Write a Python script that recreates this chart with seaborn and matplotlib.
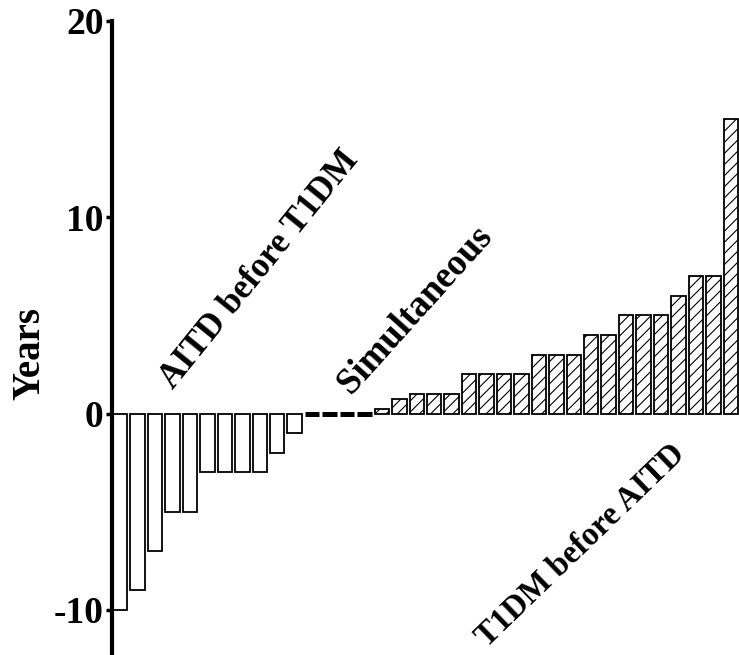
import numpy as np
import pandas as pd
import matplotlib
matplotlib.use('Agg')
import matplotlib.pyplot as plt
from matplotlib import font_manager as fm
import seaborn as sns

# years between onset of AITD and T1DM, one bar per patient
aitd_first = [-10, -9, -7, -5, -5, -3, -3, -3, -3, -2, -1]
simultaneous = [0, 0, 0, 0]
t1dm_first = [0.25, 0.75, 1, 1, 1, 2, 2, 2, 2, 3, 3, 3, 4, 4, 5, 5, 5, 6, 7, 7, 15]

y_ticks = [-10, 0, 10, 20]

n1, n2, n3 = len(aitd_first), len(simultaneous), len(t1dm_first)
df1 = pd.DataFrame({'pos': np.arange(n1), 'years': aitd_first})
df2 = pd.DataFrame({'pos': np.arange(n1, n1 + n2), 'years': simultaneous})
df3 = pd.DataFrame({'pos': np.arange(n1 + n2, n1 + n2 + n3), 'years': t1dm_first})

sns.set_style('white')
plt.rcParams['hatch.linewidth'] = 0.8
plt.rcParams['text.color'] = 'black'
plt.rcParams['axes.labelcolor'] = 'black'
plt.rcParams['ytick.color'] = 'black'

# Times-like bold font, picked by file so nothing falls back
bold_path = fm.findfont(fm.FontProperties(family='Liberation Serif', weight='bold'))


def font(size):
    return fm.FontProperties(fname=bold_path, size=size)


fig = plt.figure(figsize=(7.39, 6.55), dpi=100)
ax = fig.add_axes([0.1516, 0.0, 0.8484, 0.968])

bw = 0.83
sns.barplot(data=df1, x='pos', y='years', native_scale=True, width=bw,
            color='white', edgecolor='black', linewidth=1.3, ax=ax)
sns.barplot(data=df2, x='pos', y='years', native_scale=True, width=bw,
            color='black', edgecolor='black', linewidth=3.6, ax=ax)
sns.barplot(data=df3, x='pos', y='years', native_scale=True, width=bw,
            color='white', edgecolor='black', linewidth=1.3, hatch='///', ax=ax)

ax.set_xlim(-0.47, n1 + n2 + n3 - 0.53)
ax.set_ylim(-12.3, 20)
ax.set_yticks(y_ticks)
ax.set_yticklabels([str(t) for t in y_ticks], fontproperties=font(27), color='black')
ax.set_xticks([])
ax.set_xlabel('')
ax.set_ylabel('Years', fontproperties=font(28), color='black')
ax.yaxis.set_label_coords(-0.101, 0.476)

for s in ['top', 'right', 'bottom']:
    ax.spines[s].set_visible(False)
ax.spines['left'].set_linewidth(3)
ax.spines['left'].set_color('black')
ax.tick_params(axis='y', direction='out', length=4, width=2.5, left=True, pad=2,
               color='black')

txt = dict(rotation_mode='anchor', ha='left', va='baseline', color='black')
ax.text(3.05, 1.2, 'AITD before T1DM', rotation=51, fontproperties=font(25), **txt)
ax.text(13.25, 0.95, 'Simultaneous', rotation=48, fontproperties=font(26.5), **txt)
ax.text(21.0, -11.95, 'T1DM before AITD', rotation=44, fontproperties=font(23.5), **txt)

fig.savefig('out.png', dpi=100)
